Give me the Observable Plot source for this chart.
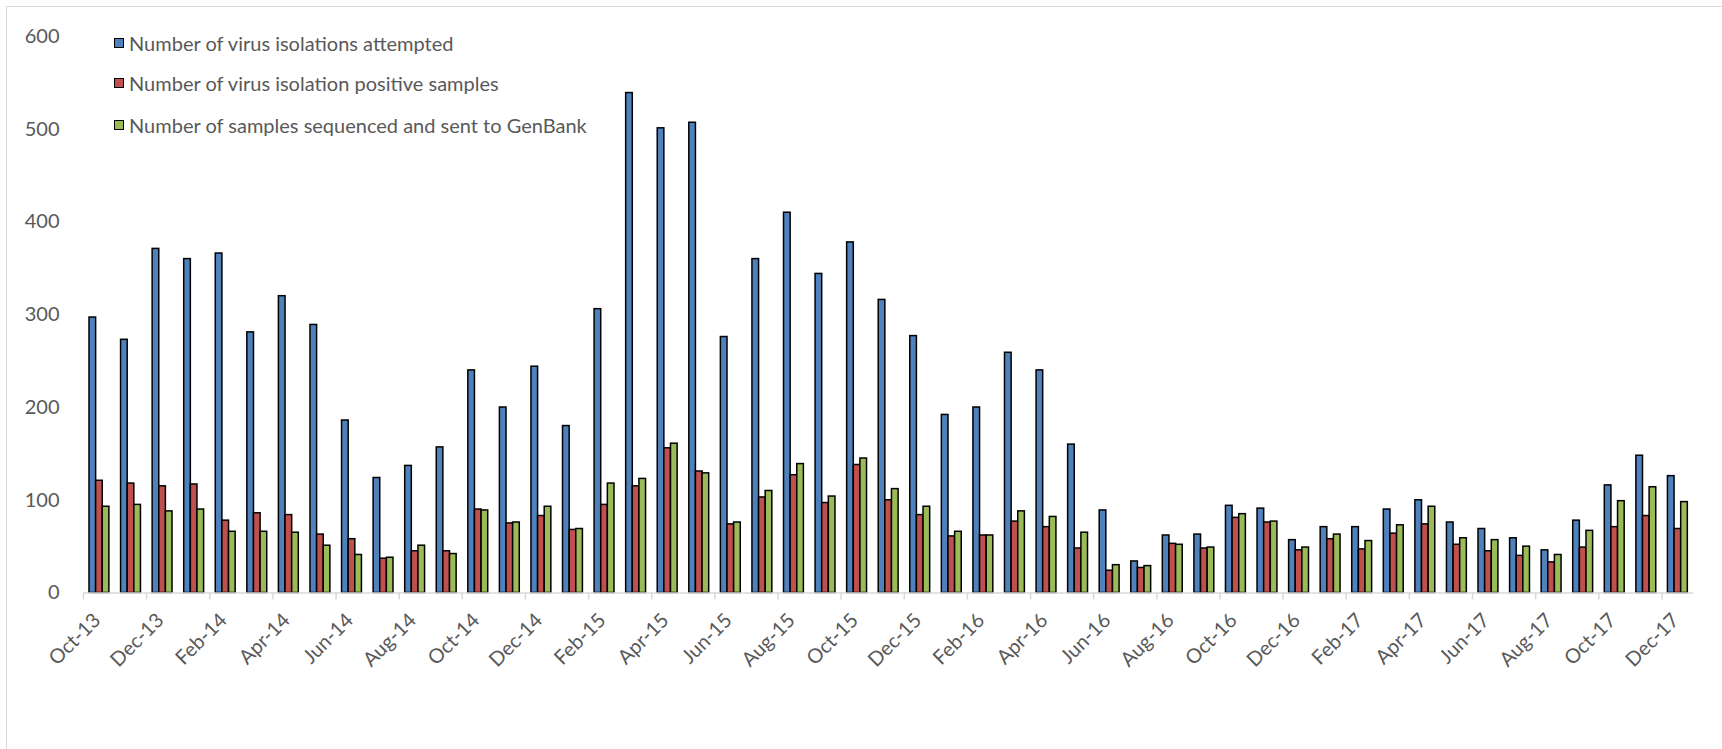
<!DOCTYPE html>
<html>
<head>
<meta charset="utf-8">
<script src="https://cdn.jsdelivr.net/npm/d3@7"></script>
<script src="https://cdn.jsdelivr.net/npm/@observablehq/plot@0.6"></script>
<style>
  html, body { margin: 0; padding: 0; background: #fff; }
  #wrap { position: relative; width: 1722px; height: 749px; overflow: hidden; background: #fff; font-family: Lato, "Open Sans", sans-serif; }
  #frame { position: absolute; left: 6px; top: 6px; width: 1800px; height: 800px; border: 1.5px solid #d9d9d9; box-sizing: border-box; }
  #chart { position: absolute; left: 0; top: 0; }
  #legend { position: absolute; left: 114px; top: 0; }
  .item { position: absolute; left: 0; white-space: nowrap; display: flex; align-items: center; color: #595959; font-size: 20px; }
  .sw { width: 8px; height: 8px; border: 1.5px solid #000; margin-right: 5px; }
</style>
</head>
<body>
<div id="wrap">
  <div id="frame"></div>
  <div id="chart"></div>
  <div id="legend"></div>
</div>
<script>
const months = ["Oct-13","Nov-13","Dec-13",
  "Jan-14","Feb-14","Mar-14","Apr-14","May-14","Jun-14","Jul-14","Aug-14","Sep-14","Oct-14","Nov-14","Dec-14",
  "Jan-15","Feb-15","Mar-15","Apr-15","May-15","Jun-15","Jul-15","Aug-15","Sep-15","Oct-15","Nov-15","Dec-15",
  "Jan-16","Feb-16","Mar-16","Apr-16","May-16","Jun-16","Jul-16","Aug-16","Sep-16","Oct-16","Nov-16","Dec-16",
  "Jan-17","Feb-17","Mar-17","Apr-17","May-17","Jun-17","Jul-17","Aug-17","Sep-17","Oct-17","Nov-17","Dec-17"];

const attempted = [297,273,371,
  360,366,281,320,289,186,124,137,157,240,200,244,
  180,306,539,501,507,276,360,410,344,378,316,277,
  192,200,259,240,160,89,34,62,63,94,91,57,
  71,71,90,100,76,69,59,46,78,116,148,126];

const positive = [121,118,115,
  117,78,86,84,63,58,37,45,45,90,75,83,
  68,95,115,156,131,74,103,127,97,138,100,84,
  61,62,77,71,48,24,27,53,48,81,76,46,
  58,47,64,74,52,45,40,33,49,71,83,69];

const sequenced = [93,95,88,
  90,66,66,65,51,41,38,51,42,89,76,93,
  69,118,123,161,129,76,110,139,104,145,112,93,
  66,62,88,82,65,30,29,52,49,85,77,49,
  63,56,73,93,59,57,50,41,67,99,114,98];

const seriesNames = [
  "Number of virus isolations attempted",
  "Number of virus isolation positive samples",
  "Number of samples sequenced and sent to GenBank"
];
const seriesColors = ["#4f81bd", "#c0504d", "#9bbb59"];
const yTicks = [0, 100, 200, 300, 400, 500, 600];

const seriesValues = [attempted, positive, sequenced];
const data = [];
months.forEach((m, i) => {
  seriesValues.forEach((vals, s) => {
    data.push({i, month: m, s, series: seriesNames[s], value: vals[i]});
  });
});

// bar geometry within each month slot (in month units)
const groupOffset = 0.19, barW = 0.21;

const chart = Plot.plot({
  width: 1722,
  height: 749,
  marginLeft: 83,
  marginRight: 29,
  marginTop: 36,
  marginBottom: 156.5,
  style: {fontFamily: "Lato, 'Open Sans', sans-serif", fontSize: "20px", color: "#595959", background: "transparent", overflow: "visible"},
  x: {type: "linear", domain: [0, months.length], label: null},
  y: {domain: [0, 600], label: null},
  color: {domain: seriesNames, range: seriesColors},
  marks: [
    Plot.rect(data, {
      x1: d => d.i + groupOffset + d.s * barW,
      x2: d => d.i + groupOffset + (d.s + 1) * barW,
      y1: 0,
      y2: "value",
      fill: "series",
      stroke: "#000",
      strokeWidth: 1.5
    }),
    Plot.ruleY([0], {stroke: "#d9d9d9", strokeWidth: 1.5}),
    Plot.axisX({
      ticks: d3.range(0, months.length, 2),
      tickSize: 7,
      tickFormat: () => "",
      label: null,
      stroke: "#d9d9d9",
      strokeWidth: 1.5
    }),
    Plot.axisX({
      ticks: d3.range(0, months.length, 2).map(i => i + 0.5),
      tickFormat: v => months[Math.round(v - 0.5)],
      tickSize: 0,
      tickPadding: 24,
      tickRotate: -45,
      dx: -2,
      label: null,
      fontSize: 20,
      fill: "#595959"
    }),
    Plot.axisY({
      ticks: yTicks,
      tickSize: 0,
      tickPadding: 24,
      label: null,
      fontSize: 20,
      fill: "#595959"
    })
  ]
});
document.getElementById("chart").appendChild(chart);

const legend = document.getElementById("legend");
const legendTops = [42.7, 83.3, 125];
seriesNames.forEach((name, s) => {
  const item = document.createElement("div");
  item.className = "item";
  item.style.top = (legendTops[s] - 12) + "px";
  item.style.height = "24px";
  const sw = document.createElement("div");
  sw.className = "sw";
  sw.style.background = seriesColors[s];
  const label = document.createElement("span");
  label.textContent = name;
  item.appendChild(sw);
  item.appendChild(label);
  legend.appendChild(item);
});
</script>
</body>
</html>
